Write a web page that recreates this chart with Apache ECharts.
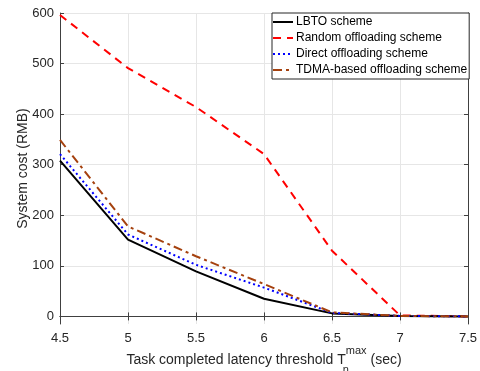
<!DOCTYPE html>
<html>
<head>
<meta charset="utf-8">
<script src="https://cdn.jsdelivr.net/npm/echarts@6/dist/echarts.min.js"></script>
<style>html,body{margin:0;padding:0;background:#fff;}#c{width:480px;height:371px;}</style>
</head>
<body>
<div id="c"></div>
<script>
// ---- data ----
const thresholds = [4.5, 5, 5.5, 6, 6.5, 7, 7.5];
const lbto   = [308, 152, 89, 35, 6, 1, 0];
const random = [596, 491, 414, 321, 130, 2, 0];
const direct = [321, 162, 102, 57, 7, 1, 0];
const tdma   = [349, 178, 119, 64, 8, 1, 0];
const seriesNames = ['LBTO scheme', 'Random offloading scheme', 'Direct offloading scheme', 'TDMA-based offloading scheme'];
const yTicks = [0, 100, 200, 300, 400, 500, 600];

const pair = arr => thresholds.map((x, i) => [x, arr[i]]);
const font = '"Liberation Sans", Arial, Helvetica, sans-serif';
const axisCol = '#404040';
const textCol = '#262626';

const chart = echarts.init(document.getElementById('c'), null, {renderer: 'canvas'});
chart.setOption({
  animation: false,
  backgroundColor: '#fff',
  textStyle: {fontFamily: font},
  grid: {left: 60, right: 12, top: 13, bottom: 47, containLabel: false, outerBoundsMode: 'none'},
  legend: {
    orient: 'vertical', left: 272, top: 13,
    data: seriesNames,
    itemWidth: 20, itemHeight: 12, itemGap: 4,
    padding: [3, 2, 3, 0],
    borderColor: textCol, borderWidth: 1, backgroundColor: '#fff',
    itemStyle: {opacity: 0, borderWidth: 0},
    textStyle: {fontFamily: font, fontSize: 12, color: '#000', padding: [0, 0, 0, -2]}
  },
  xAxis: [{
    type: 'value', min: 4.5, max: 7.5, interval: 0.5, position: 'bottom',
    axisLine: {show: true, lineStyle: {color: axisCol, width: 1}},
    axisTick: {show: true, inside: true, length: 4, lineStyle: {color: axisCol}},
    axisLabel: {fontFamily: font, fontSize: 13, color: textCol, margin: 8},
    splitLine: {show: true, lineStyle: {color: '#e6e6e6', width: 1}},
    name: '{a|Task completed latency threshold T}{n|n}{m|max}{a| (sec)}',
    nameLocation: 'middle', nameGap: 21, nameMoveOverlap: false,
    nameTextStyle: {
      fontFamily: font, color: textCol,
      rich: {
        a: {fontFamily: font, fontSize: 14, color: textCol, lineHeight: 30, verticalAlign: 'middle'},
        m: {fontFamily: font, fontSize: 11, color: textCol, lineHeight: 14, verticalAlign: 'top'},
        n: {fontFamily: font, fontSize: 11, color: textCol, lineHeight: 14, verticalAlign: 'bottom', width: 0, align: 'left'}
      }
    }
  }, {
    type: 'value', min: 4.5, max: 7.5, interval: 0.5, position: 'top',
    axisLine: {show: true, lineStyle: {color: axisCol, width: 1}},
    axisTick: {show: true, inside: true, length: 4, lineStyle: {color: axisCol}},
    axisLabel: {show: false}, splitLine: {show: false}
  }],
  yAxis: [{
    type: 'value', min: -15, max: 600, interval: 100, position: 'left',
    axisLine: {show: true, lineStyle: {color: axisCol, width: 1}},
    axisTick: {show: true, inside: true, length: 4, lineStyle: {color: axisCol}, customValues: yTicks},
    axisLabel: {fontFamily: font, fontSize: 13, color: textCol, margin: 6, customValues: yTicks},
    splitLine: {show: true, lineStyle: {color: '#e6e6e6', width: 1}, customValues: yTicks},
    name: 'System cost (RMB)', nameLocation: 'middle', nameGap: 30, nameRotate: 90, nameMoveOverlap: false,
    nameTextStyle: {fontFamily: font, fontSize: 14, color: textCol}
  }, {
    type: 'value', min: -15, max: 600, interval: 100, position: 'right',
    axisLine: {show: true, lineStyle: {color: axisCol, width: 1}},
    axisTick: {show: true, inside: true, length: 4, lineStyle: {color: axisCol}, customValues: yTicks},
    axisLabel: {show: false}, splitLine: {show: false}
  }],
  series: [
    {name: seriesNames[0], type: 'line', data: pair(lbto), symbol: 'none', z: 5,
     lineStyle: {color: '#000', width: 2, type: 'solid'}, itemStyle: {color: '#000'}},
    {name: seriesNames[1], type: 'line', data: pair(random), symbol: 'none', z: 4,
     lineStyle: {color: '#ff0000', width: 2, type: [8, 6]}, itemStyle: {color: '#ff0000'}},
    {name: seriesNames[2], type: 'line', data: pair(direct), symbol: 'none', z: 6,
     lineStyle: {color: '#0000ff', width: 2, type: [2, 3]}, itemStyle: {color: '#0000ff'}},
    {name: seriesNames[3], type: 'line', data: pair(tdma), symbol: 'none', z: 7,
     lineStyle: {color: '#A5410E', width: 2, type: [9, 4, 3, 4]}, itemStyle: {color: '#A5410E'}}
  ]
});
</script>
</body>
</html>
